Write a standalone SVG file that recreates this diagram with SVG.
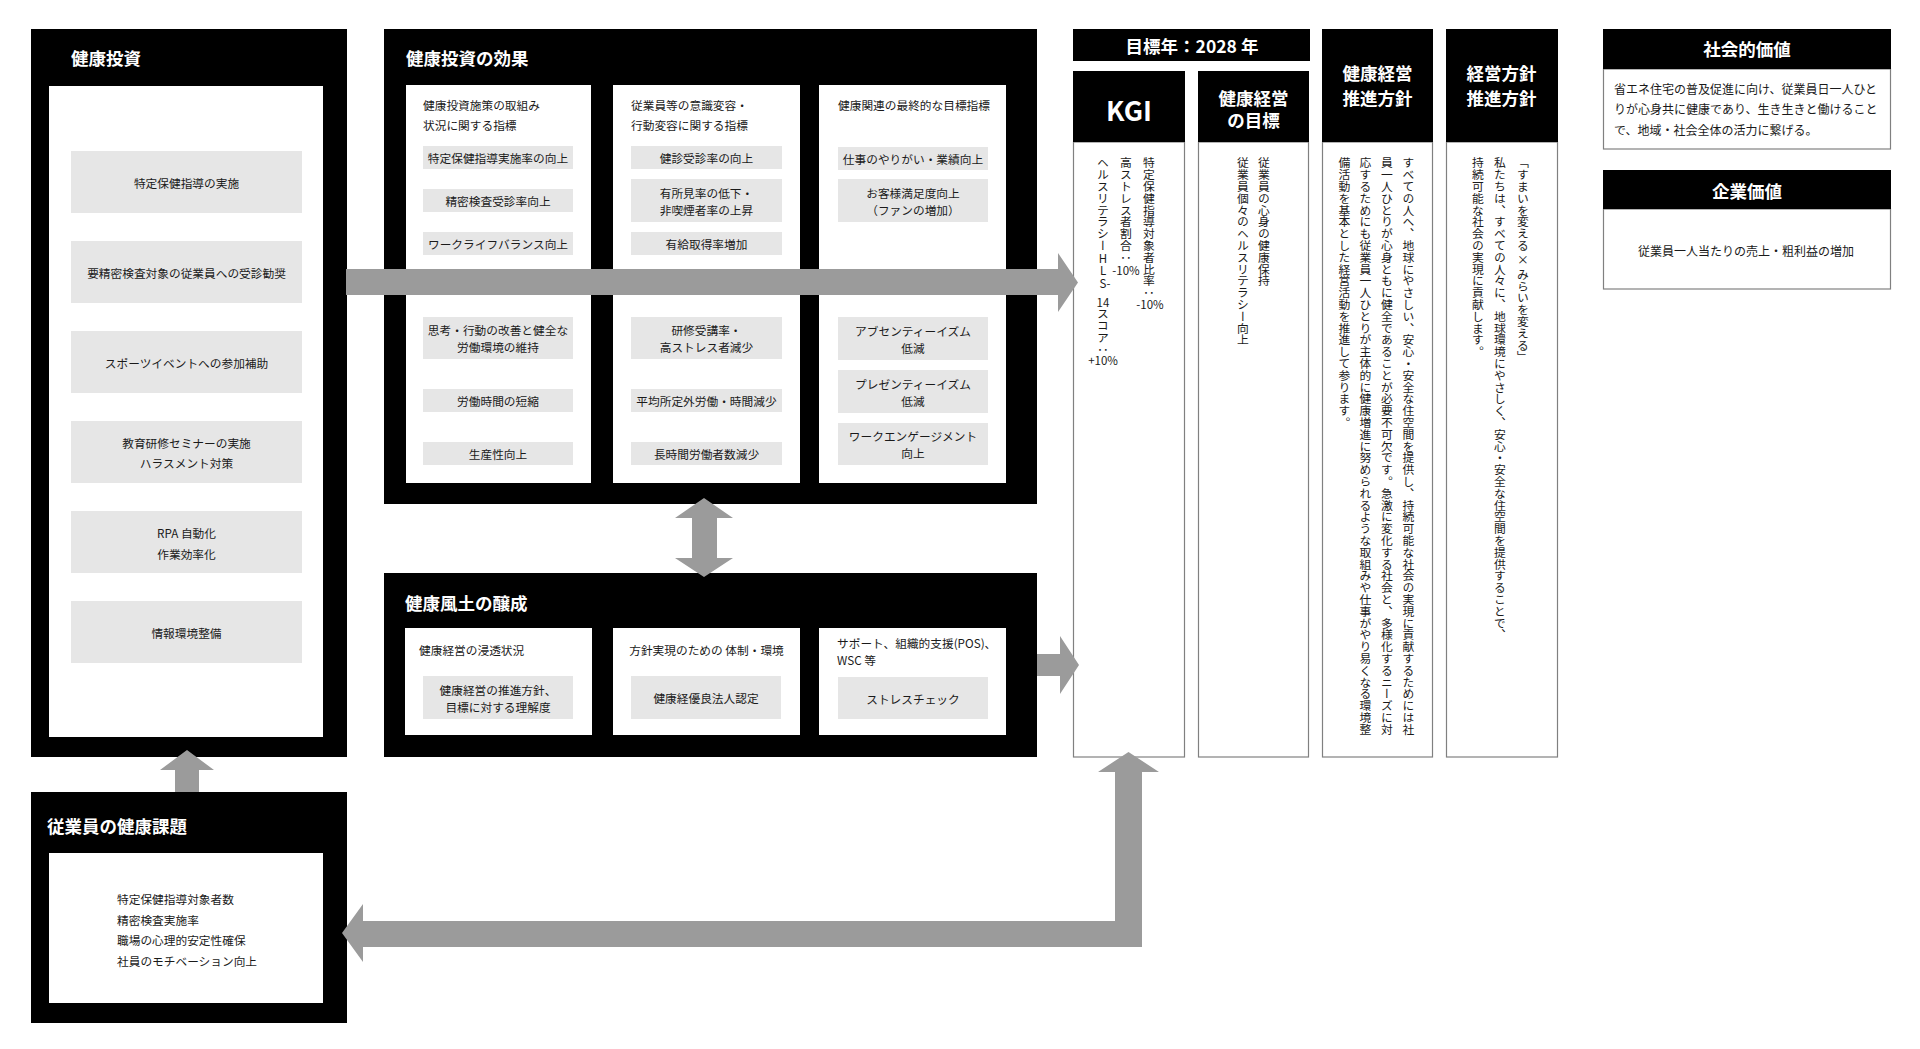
<svg xmlns="http://www.w3.org/2000/svg" width="1920" height="1049" viewBox="0 0 1920 1049">
<style>
.blk{fill:#000}
.wht{fill:#fff}
.wb{fill:#fff;stroke:#808080;stroke-width:1.2}
.itm{fill:#e6e6e6}
.arr{fill:#9b9b9b}
text{font-family:"Noto Sans CJK JP","Noto Sans CJK SC",sans-serif}
.t{font-size:11.7px;fill:#1a1a1a;dominant-baseline:central}
.c{text-anchor:middle}
.ttl{font-size:17.5px;font-weight:bold;fill:#fff;dominant-baseline:central}
.v{font-size:11.8px;fill:#1a1a1a;writing-mode:vertical-rl}
.h{font-size:11.5px;fill:#1a1a1a;text-anchor:middle;dominant-baseline:central}
</style>
<rect width="1920" height="1049" fill="#fff"/>

<g id="kenko-toshi">
<rect class="blk" x="31" y="29" width="316" height="728"/>
<text class="ttl" x="71" y="57">健康投資</text>
<rect class="wht" x="49" y="86" width="274" height="651"/>
<rect class="itm" x="71" y="151" width="231" height="62"/>
<text class="t c" x="186.5" y="182">特定保健指導の実施</text>
<rect class="itm" x="71" y="241" width="231" height="62"/>
<text class="t c" x="186.5" y="272">要精密検査対象の従業員への受診勧奨</text>
<rect class="itm" x="71" y="331" width="231" height="62"/>
<text class="t c" x="186.5" y="362">スポーツイベントへの参加補助</text>
<rect class="itm" x="71" y="421" width="231" height="62"/>
<text class="t c" x="186.5" y="442">教育研修セミナーの実施</text>
<text class="t c" x="186.5" y="462">ハラスメント対策</text>
<rect class="itm" x="71" y="511" width="231" height="62"/>
<text class="t c" x="186.5" y="532">RPA 自動化</text>
<text class="t c" x="186.5" y="553">作業効率化</text>
<rect class="itm" x="71" y="601" width="231" height="62"/>
<text class="t c" x="186.5" y="632">情報環境整備</text>
</g>

<g id="kenko-toshi-koka">
<rect class="blk" x="384" y="29" width="653" height="475"/>
<text class="ttl" x="406" y="57">健康投資の効果</text>
<rect class="wht" x="406" y="85" width="185" height="398"/>
<rect class="wht" x="613" y="85" width="187" height="398"/>
<rect class="wht" x="819" y="85" width="187" height="398"/>
<text class="t" x="423" y="104">健康投資施策の取組み</text>
<text class="t" x="423" y="124">状況に関する指標</text>
<rect class="itm" x="423" y="146" width="150" height="23"/>
<text class="t c" x="498" y="157.5">特定保健指導実施率の向上</text>
<rect class="itm" x="423" y="189" width="150" height="23"/>
<text class="t c" x="498" y="200.5">精密検査受診率向上</text>
<rect class="itm" x="423" y="232" width="150" height="23"/>
<text class="t c" x="498" y="243.5">ワークライフバランス向上</text>
<rect class="itm" x="423" y="317" width="150" height="42"/>
<text class="t c" x="498" y="329.5">思考・行動の改善と健全な</text>
<text class="t c" x="498" y="346.5">労働環境の維持</text>
<rect class="itm" x="423" y="389" width="150" height="23"/>
<text class="t c" x="498" y="400.5">労働時間の短縮</text>
<rect class="itm" x="423" y="442" width="150" height="23"/>
<text class="t c" x="498" y="453.5">生産性向上</text>

<text class="t" x="631" y="104">従業員等の意識変容・</text>
<text class="t" x="631" y="124">行動変容に関する指標</text>
<rect class="itm" x="631" y="146" width="151" height="23"/>
<text class="t c" x="706.5" y="157.5">健診受診率の向上</text>
<rect class="itm" x="631" y="179" width="151" height="43"/>
<text class="t c" x="706.5" y="192">有所見率の低下・</text>
<text class="t c" x="706.5" y="209">非喫煙者率の上昇</text>
<rect class="itm" x="631" y="232" width="151" height="23"/>
<text class="t c" x="706.5" y="243.5">有給取得率増加</text>
<rect class="itm" x="631" y="317" width="151" height="42"/>
<text class="t c" x="706.5" y="329.5">研修受講率・</text>
<text class="t c" x="706.5" y="346.5">高ストレス者減少</text>
<rect class="itm" x="631" y="389" width="151" height="23"/>
<text class="t c" x="706.5" y="400.5">平均所定外労働・時間減少</text>
<rect class="itm" x="631" y="442" width="151" height="23"/>
<text class="t c" x="706.5" y="453.5">長時間労働者数減少</text>

<text class="t" x="838" y="104">健康関連の最終的な目標指標</text>
<rect class="itm" x="838" y="147" width="150" height="23"/>
<text class="t c" x="913" y="158.5">仕事のやりがい・業績向上</text>
<rect class="itm" x="838" y="179" width="150" height="43"/>
<text class="t c" x="913" y="192">お客様満足度向上</text>
<text class="t c" x="913" y="209">（ファンの増加）</text>
<rect class="itm" x="838" y="317" width="150" height="43"/>
<text class="t c" x="913" y="330">アブセンティーイズム</text>
<text class="t c" x="913" y="347">低減</text>
<rect class="itm" x="838" y="370" width="150" height="43"/>
<text class="t c" x="913" y="383">プレゼンティーイズム</text>
<text class="t c" x="913" y="400">低減</text>
<rect class="itm" x="838" y="423" width="150" height="42"/>
<text class="t c" x="913" y="435.5">ワークエンゲージメント</text>
<text class="t c" x="913" y="452.5">向上</text>
</g>

<g id="kenko-fudo">
<rect class="blk" x="384" y="573" width="653" height="184"/>
<text class="ttl" x="405" y="602">健康風土の醸成</text>
<rect class="wht" x="405" y="628" width="187" height="107"/>
<rect class="wht" x="613" y="628" width="187" height="107"/>
<rect class="wht" x="819" y="628" width="187" height="107"/>
<text class="t" x="419" y="649">健康経営の浸透状況</text>
<rect class="itm" x="423" y="676" width="150" height="43"/>
<text class="t c" x="498" y="689.5">健康経営の推進方針、</text>
<text class="t c" x="498" y="706.5">目標に対する理解度</text>
<text class="t c" x="706.5" y="649">方針実現のための 体制・環境</text>
<rect class="itm" x="631" y="676" width="150" height="43"/>
<text class="t c" x="706" y="697.5">健康経優良法人認定</text>
<text class="t" x="837" y="642.5">サポート、組織的支援(POS)、</text>
<text class="t" x="837" y="659.5">WSC 等</text>
<rect class="itm" x="838" y="677" width="150" height="42"/>
<text class="t c" x="913" y="698">ストレスチェック</text>
</g>

<g id="jugyoin-kadai">
<rect class="blk" x="31" y="792" width="316" height="231"/>
<text class="ttl" x="47" y="825">従業員の健康課題</text>
<rect class="wht" x="49" y="853" width="274" height="150"/>
<text class="t" x="117" y="898">特定保健指導対象者数</text>
<text class="t" x="117" y="919">精密検査実施率</text>
<text class="t" x="117" y="939">職場の心理的安定性確保</text>
<text class="t" x="117" y="960">社員のモチベーション向上</text>
</g>

<g id="mokuhyo-nen">
<rect class="blk" x="1073" y="29" width="237" height="32"/>
<text class="ttl c" x="1192" y="45">目標年：2028 年</text>
</g>

<g id="kgi">
<rect class="wb" x="1073.5" y="142" width="111" height="615"/>
<rect class="blk" x="1073" y="71" width="112" height="71"/>
<text class="ttl c" x="1129" y="109" style="font-size:27px">KGI</text>
<text class="v" x="1149" y="157">特定保健指導対象者比率：</text>
<text class="h" x="1150" y="304">-10%</text>
<text class="v" x="1126" y="157">高ストレス者割合：</text>
<text class="h" x="1126" y="270">-10%</text>
<text class="v" x="1103" y="157">ヘルスリテラシー</text>
<text class="h" x="1103" y="258">H</text>
<text class="h" x="1103" y="270">L</text>
<text class="h" x="1105" y="283">S-</text>
<text class="h" x="1103" y="302">14</text>
<text class="v" x="1103" y="308">スコア：</text>
<text class="h" x="1103" y="360">+10%</text>
</g>

<g id="kenko-keiei-mokuhyo">
<rect class="wb" x="1198.5" y="142" width="110" height="615"/>
<rect class="blk" x="1198" y="71" width="111" height="71"/>
<text class="ttl c" x="1253.5" y="97">健康経営</text>
<text class="ttl c" x="1253.5" y="119">の目標</text>
<text class="v" x="1264" y="157">従業員の心身の健康保持</text>
<text class="v" x="1243" y="157">従業員個々のヘルスリテラシー向上</text>
</g>

<g id="kenko-keiei-hoshin">
<rect class="wb" x="1322.5" y="142" width="110" height="615"/>
<rect class="blk" x="1322" y="29" width="111" height="113"/>
<text class="ttl c" x="1377.5" y="72">健康経営</text>
<text class="ttl c" x="1377.5" y="97">推進方針</text>
<text class="v" x="1408.5" y="157">すべての人へ、地球にやさしい、安心・安全な住空間を提供し、持続可能な社会の実現に貢献するためには社</text>
<text class="v" x="1387" y="157">員一人ひとりが心身ともに健全であることが必要不可欠です。急激に変化する社会と、多様化するニーズに対</text>
<text class="v" x="1365.5" y="157">応するためにも従業員一人ひとりが主体的に健康増進に努められるような取組みや仕事がやり易くなる環境整</text>
<text class="v" x="1344.5" y="157">備活動を基本とした経営活動を推進して参ります。</text>
</g>

<g id="keiei-hoshin">
<rect class="wb" x="1446.5" y="142" width="111" height="615"/>
<rect class="blk" x="1446" y="29" width="112" height="113"/>
<text class="ttl c" x="1501.5" y="72">経営方針</text>
<text class="ttl c" x="1501.5" y="97">推進方針</text>
<text class="v" x="1523" y="157">「すまいを変える × みらいを変える」</text>
<text class="v" x="1500" y="157">私たちは、すべての人々に、地球環境にやさしく、安心・安全な住空間を提供することで、</text>
<text class="v" x="1478" y="157">持続可能な社会の実現に貢献します。</text>
</g>

<g id="shakai-kachi">
<rect class="wb" x="1603.5" y="69" width="287" height="80"/>
<rect class="blk" x="1603" y="29" width="288" height="40"/>
<text class="ttl c" x="1747" y="48">社会的価値</text>
<text class="t" x="1614" y="88" style="font-size:12px">省エネ住宅の普及促進に向け、従業員日一人ひと</text>
<text class="t" x="1614" y="108.5" style="font-size:12px">りが心身共に健康であり、生き生きと働けること</text>
<text class="t" x="1614" y="129" style="font-size:12px">で、地域・社会全体の活力に繋げる。</text>
</g>

<g id="kigyo-kachi">
<rect class="wb" x="1603.5" y="209" width="287" height="80"/>
<rect class="blk" x="1603" y="170" width="288" height="39"/>
<text class="ttl c" x="1747" y="190">企業価値</text>
<text class="t c" x="1746" y="250" style="font-size:12px">従業員一人当たりの売上・粗利益の増加</text>
</g>

<g id="connectors">
<polygon class="arr" points="346,269 1058,269 1058,253 1078,282.5 1058,312 1058,295 346,295"/>
<polygon class="arr" points="1037,654 1060,654 1060,636 1079,665 1060,694 1060,676 1037,676"/>
<polygon class="arr" points="704,498 733,518 717,518 717,558 733,558 704,577 675,558 692,558 692,518 675,518"/>
<polygon class="arr" points="187,750 214,770 199,770 199,792 175,792 175,770 160,770"/>
<polygon class="arr" points="1128.5,752 1159,772 1142,772 1142,947 363,947 363,962 342,933 363,904 363,921 1115,921 1115,772 1098,772"/>
</g>
</svg>
